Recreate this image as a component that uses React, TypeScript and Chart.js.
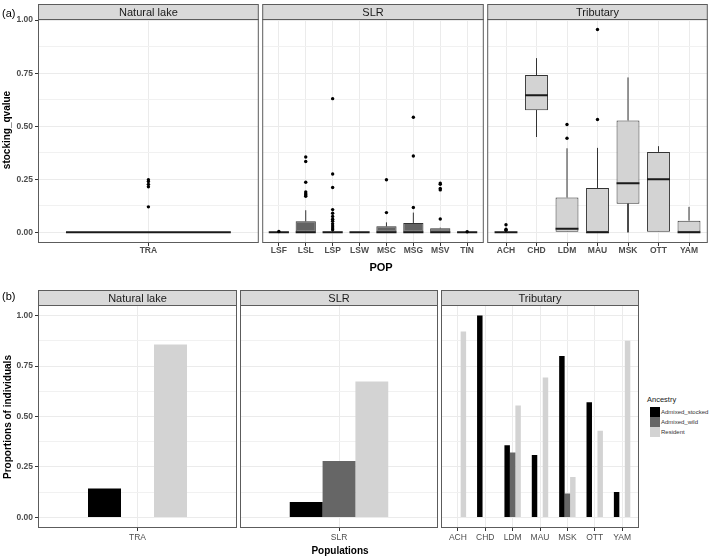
import React, { useEffect, useRef } from "react";
import { Chart, registerables } from "chart.js";
Chart.register(...registerables);

// ---------------- data ----------------
const naturalPops = ["TRA"];
const slrPops = ["LSF", "LSL", "LSP", "LSW", "MSC", "MSG", "MSV", "TIN"];
const tribPops = ["ACH", "CHD", "LDM", "MAU", "MSK", "OTT", "YAM"];

// boxplot stats per population: [lower whisker, q1, median, q3, upper whisker]
const naturalBox = [[0, 0, 0, 0, 0]];
const slrBox = [
  [0, 0, 0, 0, 0],
  [0, 0, 0, 0.052, 0.104],
  [0, 0, 0, 0.004, 0.007],
  [0, 0, 0, 0, 0],
  [0, 0, 0, 0.028, 0.047],
  [0, 0, 0, 0.044, 0.093],
  [0, 0, 0, 0.019, 0.022],
  [0, 0, 0, 0, 0],
];
const tribBox = [
  [0, 0, 0, 0, 0],
  [0.45, 0.575, 0.646, 0.741, 0.821],
  [0, 0, 0.017, 0.164, 0.396],
  [0, 0, 0, 0.209, 0.398],
  [0, 0.135, 0.231, 0.527, 0.73],
  [0, 0, 0.25, 0.379, 0.406],
  [0, 0, 0, 0.055, 0.12],
];

// outliers per population
const naturalOut = [[0.248, 0.239, 0.226, 0.215, 0.12]];
const slrOut = [
  [0.004],
  [0.355, 0.334, 0.236, 0.19, 0.182, 0.176, 0.17],
  [0.63, 0.275, 0.211, 0.107, 0.09, 0.075, 0.062, 0.052, 0.04, 0.03, 0.02, 0.012],
  [],
  [0.248, 0.093],
  [0.542, 0.36, 0.117],
  [0.232, 0.226, 0.207, 0.2, 0.063],
  [0.003],
];
const tribOut = [
  [0.036, 0.015, 0.01],
  [],
  [0.508, 0.443],
  [0.956, 0.532],
  [],
  [],
  [],
];

// proportions of individuals by ancestry
const ancestry = ["Admixed_stocked", "Admixed_wild", "Resident"];
const naturalStocked = [0.143];
const naturalWild = [0];
const naturalResident = [0.857];
const slrGroup = ["SLR"];
const slrStocked = [0.076];
const slrWild = [0.279];
const slrResident = [0.673];
const tribStocked = [0, 1.0, 0.358, 0.309, 0.8, 0.571, 0.126];
const tribWild = [0, 0, 0.322, 0, 0.119, 0, 0];
const tribResident = [0.921, 0, 0.554, 0.693, 0.2, 0.429, 0.875];

const yTicks = [0, 0.125, 0.25, 0.375, 0.5, 0.625, 0.75, 0.875, 1];
const majorTicks = [0, 0.25, 0.5, 0.75, 1];

// ---------------- styling ----------------
const FONT = "'Liberation Sans', Arial, Helvetica, sans-serif";
const ancestryColors = ["#000000", "#666666", "#D3D3D3"];
const BORDER = "#5c5c5c";

const isMajor = (v: number) => majorTicks.some((m) => Math.abs(m - v) < 1e-9);

type Geo = {
  cl: number; ct: number; cw: number; ch: number;
  padding: { left: number; top: number; right: number; bottom: number };
  yAxisW: number; stripTopRel: number; unitPx: number;
};

function geom(left: number, right: number, stripTop: number, plotTop: number, plotBottom: number, showY: boolean, xAxisH: number, n: number): Geo {
  const cl = showY ? 0 : Math.floor(left) - 1;
  const ct = Math.floor(stripTop) - 1;
  const cw = Math.ceil(right) + 1 - cl;
  const ch = Math.ceil(plotBottom) + xAxisH + 1 - ct;
  return {
    cl, ct, cw, ch,
    padding: {
      left: showY ? 0 : left - cl,
      top: plotTop - ct,
      right: cl + cw - right,
      bottom: ch - (plotBottom - ct) - xAxisH,
    },
    yAxisW: showY ? left - cl : 0,
    stripTopRel: stripTop - ct,
    unitPx: (right - left) / (n + 0.2),
  };
}

const framePlugin = {
  id: "frame",
  afterDraw(chart: any, _args: any, opts: any) {
    const { ctx, chartArea } = chart;
    const { left, right, top, bottom } = chartArea;
    const st = opts.stripTop;
    ctx.save();
    ctx.fillStyle = "#D9D9D9";
    ctx.fillRect(left, st, right - left, top - st);
    ctx.strokeStyle = BORDER;
    ctx.lineWidth = 1;
    ctx.strokeRect(left, st, right - left, top - st);
    ctx.strokeRect(left, top, right - left, bottom - top);
    ctx.fillStyle = "#1A1A1A";
    ctx.font = `11px ${FONT}`;
    ctx.textAlign = "center";
    ctx.textBaseline = "middle";
    ctx.fillText(opts.title, (left + right) / 2, (st + top) / 2 + 0.5);
    ctx.restore();
  },
};

function makeScales(cats: string[], yMin: number, yMax: number, g: Geo, showY: boolean, xAxisH: number, xBold: boolean, xPad: number) {
  return {
    x: {
      type: "linear",
      offset: false,
      min: -0.6,
      max: cats.length - 0.4,
      afterBuildTicks: (s: any) => {
        s.ticks = cats.map((_, i) => ({ value: i }));
      },
      afterFit: (s: any) => {
        s.height = xAxisH;
      },
      border: { display: false },
      grid: { offset: false, color: "#EBEBEB", lineWidth: 1, drawTicks: true, tickLength: 3.5, tickColor: "#333333", tickWidth: 1 },
      ticks: {
        autoSkip: false,
        maxRotation: 0,
        padding: xPad,
        color: "#4D4D4D",
        font: { family: FONT, size: 8.5, weight: xBold ? "bold" : "normal" },
        callback: (v: any) => cats[v] ?? "",
      },
    },
    y: {
      type: "linear",
      offset: false,
      min: yMin,
      max: yMax,
      afterBuildTicks: (s: any) => {
        s.ticks = yTicks.map((v) => ({ value: v }));
      },
      afterFit: (s: any) => {
        s.width = g.yAxisW;
      },
      border: { display: false },
      grid: {
        offset: false,
        color: (c: any) => (c.tick && isMajor(c.tick.value) ? "#EBEBEB" : "#F1F1F1"),
        lineWidth: 1,
        drawTicks: showY,
        tickLength: 3.5,
        tickWidth: 1,
        tickColor: (c: any) => (c.tick && isMajor(c.tick.value) ? "#333333" : "rgba(0,0,0,0)"),
      },
      ticks: {
        display: showY,
        autoSkip: false,
        padding: 2,
        color: "#4D4D4D",
        font: { family: FONT, size: 8.5, weight: "bold" },
        callback: (v: any) => (isMajor(v) ? Number(v).toFixed(2) : ""),
      },
    },
  };
}

type PanelSpec = { g: Geo; config: any };

function boxSpec(title: string, cats: string[], box: number[][], out: number[][], fill: string, boxUnits: number, left: number, right: number, showY: boolean): PanelSpec {
  const xAxisH = 20;
  const g = geom(left, right, 4.5, 19.5, 242.5, showY, xAxisH, cats.length);
  const hw = boxUnits / 2;
  const whiskers: any[] = [];
  const medians: any[] = [];
  const outliers: any[] = [];
  box.forEach((b, i) => {
    whiskers.push({ x: i, y: b[3] }, { x: i, y: b[4] }, { x: i, y: null });
    whiskers.push({ x: i, y: b[1] }, { x: i, y: b[0] }, { x: i, y: null });
    medians.push({ x: i - hw, y: b[2] }, { x: i + hw, y: b[2] }, { x: i, y: null });
    out[i].forEach((v) => outliers.push({ x: i, y: v }));
  });
  const config = {
    type: "bar",
    data: {
      datasets: [
        {
          type: "scatter", label: "outliers", data: outliers, order: 0,
          pointRadius: 1.7, pointBackgroundColor: "#000", pointBorderWidth: 0, pointHoverRadius: 0,
        },
        {
          type: "line", label: "median", data: medians, order: 1,
          borderColor: "#1A1A1A", borderWidth: 2, pointRadius: 0, spanGaps: false, fill: false,
        },
        {
          type: "line", label: "whiskers", data: whiskers, order: 2,
          borderColor: "#333333", borderWidth: 1, pointRadius: 0, spanGaps: false, fill: false,
        },
        {
          type: "bar", label: "box", order: 3,
          data: box.map((b, i) => ({ x: i, y: [b[1], b[3]] })),
          backgroundColor: fill, borderColor: "#333333", borderWidth: 1, borderSkipped: false,
          inflateAmount: 0,
          barThickness: boxUnits * g.unitPx,
        },
      ],
    },
    options: {
      animation: false,
      responsive: false,
      events: [],
      layout: { padding: g.padding },
      plugins: { legend: { display: false }, tooltip: { enabled: false }, frame: { title, stripTop: g.stripTopRel } },
      scales: makeScales(cats, -0.048, 1.003, g, showY, xAxisH, true, 0),
    },
    plugins: [framePlugin],
  };
  return { g, config };
}

function barSpec(title: string, cats: string[], series: number[][], left: number, right: number, showY: boolean): PanelSpec {
  const xAxisH = 20;
  const g = geom(left, right, 290.5, 305.5, 527.5, showY, xAxisH, cats.length);
  const config = {
    type: "bar",
    data: {
      datasets: series.map((vals, k) => ({
        label: ancestry[k],
        data: vals.map((v, i) => ({ x: i, y: v })),
        backgroundColor: ancestryColors[k],
        borderWidth: 0,
        inflateAmount: 0,
        barThickness: 0.2 * g.unitPx,
      })),
    },
    options: {
      animation: false,
      responsive: false,
      events: [],
      layout: { padding: g.padding },
      plugins: { legend: { display: false }, tooltip: { enabled: false }, frame: { title, stripTop: g.stripTopRel } },
      scales: makeScales(cats, -0.05, 1.05, g, showY, xAxisH, false, 2),
    },
    plugins: [framePlugin],
  };
  return { g, config };
}

function Panel({ spec }: { spec: PanelSpec }) {
  const ref = useRef<HTMLCanvasElement>(null);
  useEffect(() => {
    const chart = new Chart(ref.current as HTMLCanvasElement, spec.config);
    return () => chart.destroy();
  }, [spec]);
  const { g } = spec;
  return (
    <canvas
      ref={ref}
      width={g.cw}
      height={g.ch}
      style={{ position: "absolute", left: g.cl, top: g.ct, width: g.cw, height: g.ch }}
    />
  );
}

const specs: PanelSpec[] = [
  boxSpec("Natural lake", naturalPops, naturalBox, naturalOut, "#D3D3D3", 0.9, 38.5, 258.5, true),
  boxSpec("SLR", slrPops, slrBox, slrOut, "#636363", 0.75, 262.5, 483.5, false),
  boxSpec("Tributary", tribPops, tribBox, tribOut, "#D3D3D3", 0.75, 487.5, 707.5, false),
  barSpec("Natural lake", naturalPops, [naturalStocked, naturalWild, naturalResident], 38.5, 236.5, true),
  barSpec("SLR", slrGroup, [slrStocked, slrWild, slrResident], 240.5, 437.5, false),
  barSpec("Tributary", tribPops, [tribStocked, tribWild, tribResident], 441.5, 638.5, false),
];

const txt = (extra: React.CSSProperties): React.CSSProperties => ({
  position: "absolute",
  fontFamily: FONT,
  whiteSpace: "nowrap",
  lineHeight: 1,
  ...extra,
});

export default function App() {
  return (
    <div style={{ position: "absolute", left: 0, top: 0, width: 709, height: 558, background: "#fff", overflow: "hidden" }}>
      {specs.map((s, i) => (
        <Panel key={i} spec={s} />
      ))}
      <div style={txt({ left: 2, top: 7.5, fontSize: 11, color: "#000" })}>(a)</div>
      <div style={txt({ left: 2, top: 291, fontSize: 11, color: "#000" })}>(b)</div>
      <div style={txt({ left: 7, top: 130, fontSize: 10, fontWeight: "bold", color: "#000", transform: "translate(-50%, -50%) rotate(-90deg)" })}>
        stocking_qvalue
      </div>
      <div style={txt({ left: 381, top: 267, fontSize: 11, fontWeight: "bold", color: "#000", transform: "translate(-50%, -50%)" })}>POP</div>
      <div style={txt({ left: 7.5, top: 417, fontSize: 10, fontWeight: "bold", color: "#000", transform: "translate(-50%, -50%) rotate(-90deg)" })}>
        Proportions of individuals
      </div>
      <div style={txt({ left: 340, top: 551, fontSize: 10, fontWeight: "bold", color: "#000", transform: "translate(-50%, -50%)" })}>Populations</div>
      <div style={txt({ left: 647, top: 396, fontSize: 7.5, color: "#1A1A1A" })}>Ancestry</div>
      {ancestry.map((name, k) => (
        <React.Fragment key={name}>
          <div style={{ position: "absolute", left: 649.5, top: 406.5 + k * 10, width: 10, height: 10, background: ancestryColors[k] }} />
          <div style={txt({ left: 661, top: 408.5 + k * 10, fontSize: 6, color: "#333" })}>{name}</div>
        </React.Fragment>
      ))}
    </div>
  );
}
